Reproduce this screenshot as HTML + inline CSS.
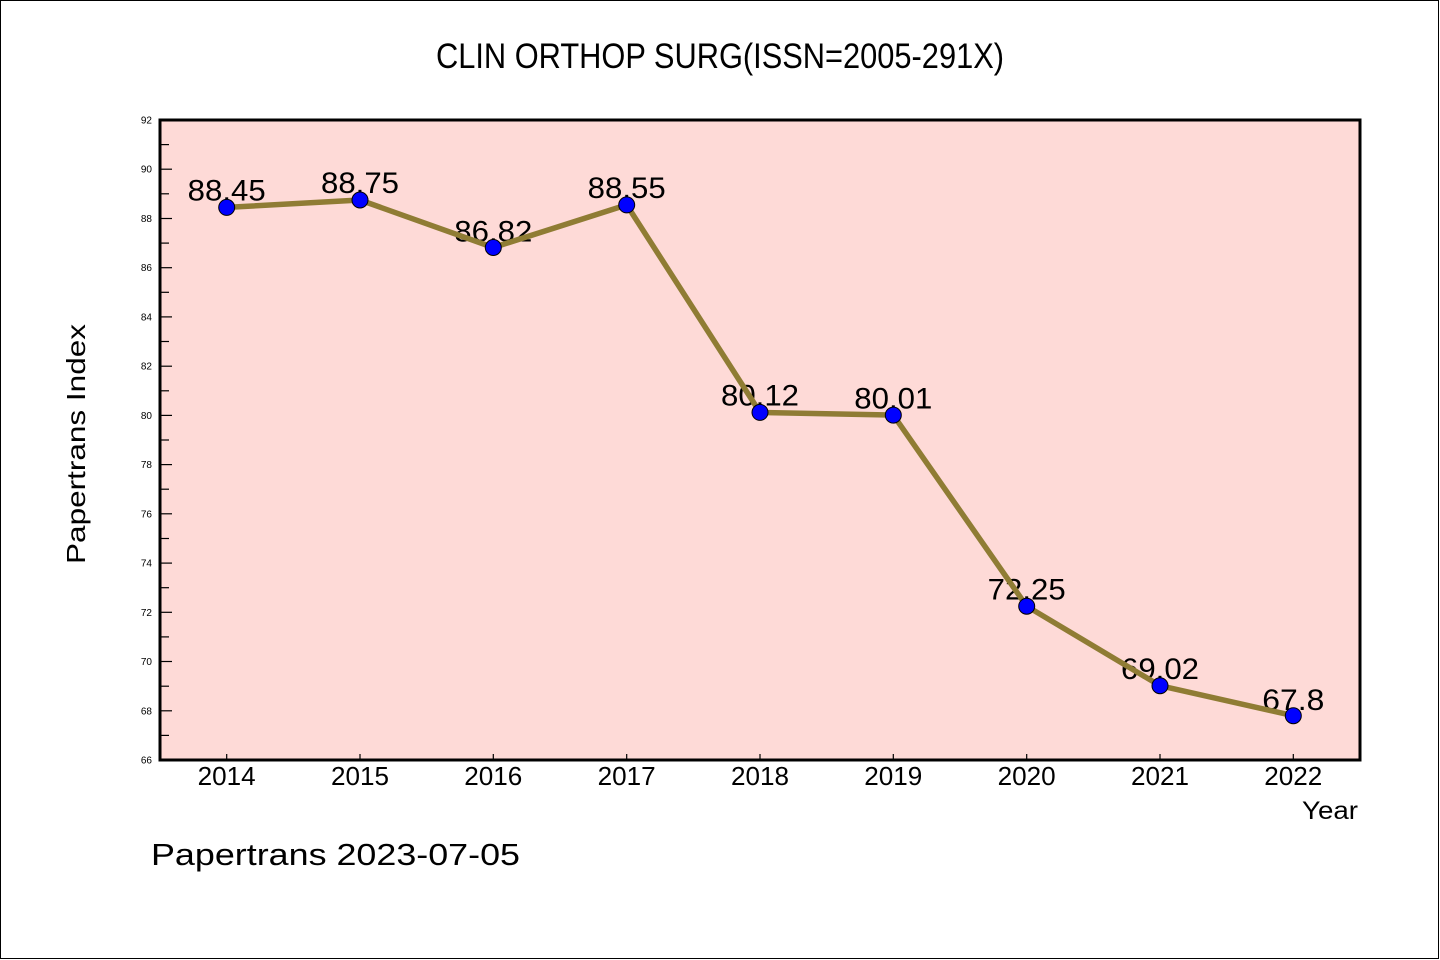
<!DOCTYPE html>
<html>
<head>
<meta charset="utf-8">
<style>
  html,body{margin:0;padding:0;background:#fff;}
  svg{display:block;}
  text{font-family:"Liberation Sans","DejaVu Sans",sans-serif;fill:#000;}
</style>
</head>
<body>
<svg width="1440" height="960" viewBox="0 0 1440 960" xmlns="http://www.w3.org/2000/svg">
  <rect x="0" y="0" width="1440" height="960" fill="#fff"/>
  <rect x="0.5" y="0.5" width="1438" height="958" fill="none" stroke="#000" stroke-width="1"/>

  <!-- plot background -->
  <rect x="160" y="120" width="1200" height="640" fill="#FEDAD7"/>

  <!-- title -->
  <text x="720" y="68" font-size="35" text-anchor="middle" textLength="568" lengthAdjust="spacingAndGlyphs">CLIN ORTHOP SURG(ISSN=2005-291X)</text>

  <!-- y ticks -->
  <g stroke="#000" stroke-width="1.2">
    <line x1="160" y1="120" x2="172" y2="120"/>
    <line x1="160" y1="144.6" x2="169" y2="144.6"/>
    <line x1="160" y1="169.2" x2="172" y2="169.2"/>
    <line x1="160" y1="193.8" x2="169" y2="193.8"/>
    <line x1="160" y1="218.5" x2="172" y2="218.5"/>
    <line x1="160" y1="243.1" x2="169" y2="243.1"/>
    <line x1="160" y1="267.7" x2="172" y2="267.7"/>
    <line x1="160" y1="292.3" x2="169" y2="292.3"/>
    <line x1="160" y1="316.9" x2="172" y2="316.9"/>
    <line x1="160" y1="341.5" x2="169" y2="341.5"/>
    <line x1="160" y1="366.2" x2="172" y2="366.2"/>
    <line x1="160" y1="390.8" x2="169" y2="390.8"/>
    <line x1="160" y1="415.4" x2="172" y2="415.4"/>
    <line x1="160" y1="440" x2="169" y2="440"/>
    <line x1="160" y1="464.6" x2="172" y2="464.6"/>
    <line x1="160" y1="489.2" x2="169" y2="489.2"/>
    <line x1="160" y1="513.8" x2="172" y2="513.8"/>
    <line x1="160" y1="538.5" x2="169" y2="538.5"/>
    <line x1="160" y1="563.1" x2="172" y2="563.1"/>
    <line x1="160" y1="587.7" x2="169" y2="587.7"/>
    <line x1="160" y1="612.3" x2="172" y2="612.3"/>
    <line x1="160" y1="636.9" x2="169" y2="636.9"/>
    <line x1="160" y1="661.5" x2="172" y2="661.5"/>
    <line x1="160" y1="686.2" x2="169" y2="686.2"/>
    <line x1="160" y1="710.8" x2="172" y2="710.8"/>
    <line x1="160" y1="735.4" x2="169" y2="735.4"/>
  </g>
  <g font-size="10" text-anchor="end">
    <text x="152" y="123.5">92</text>
    <text x="152" y="172.7">90</text>
    <text x="152" y="222">88</text>
    <text x="152" y="271.2">86</text>
    <text x="152" y="320.4">84</text>
    <text x="152" y="369.7">82</text>
    <text x="152" y="418.9">80</text>
    <text x="152" y="468.1">78</text>
    <text x="152" y="517.3">76</text>
    <text x="152" y="566.6">74</text>
    <text x="152" y="615.8">72</text>
    <text x="152" y="665">70</text>
    <text x="152" y="714.3">68</text>
    <text x="152" y="763.5">66</text>
  </g>

  <!-- x ticks -->
  <g stroke="#000" stroke-width="1.2">
    <line x1="226.7" y1="754" x2="226.7" y2="760"/>
    <line x1="360" y1="754" x2="360" y2="760"/>
    <line x1="493.3" y1="754" x2="493.3" y2="760"/>
    <line x1="626.7" y1="754" x2="626.7" y2="760"/>
    <line x1="760" y1="754" x2="760" y2="760"/>
    <line x1="893.3" y1="754" x2="893.3" y2="760"/>
    <line x1="1026.7" y1="754" x2="1026.7" y2="760"/>
    <line x1="1160" y1="754" x2="1160" y2="760"/>
    <line x1="1293.3" y1="754" x2="1293.3" y2="760"/>
  </g>
  <g font-size="26" text-anchor="middle">
    <text x="226.7" y="785" textLength="58" lengthAdjust="spacingAndGlyphs">2014</text>
    <text x="360" y="785" textLength="58" lengthAdjust="spacingAndGlyphs">2015</text>
    <text x="493.3" y="785" textLength="58" lengthAdjust="spacingAndGlyphs">2016</text>
    <text x="626.7" y="785" textLength="58" lengthAdjust="spacingAndGlyphs">2017</text>
    <text x="760" y="785" textLength="58" lengthAdjust="spacingAndGlyphs">2018</text>
    <text x="893.3" y="785" textLength="58" lengthAdjust="spacingAndGlyphs">2019</text>
    <text x="1026.7" y="785" textLength="58" lengthAdjust="spacingAndGlyphs">2020</text>
    <text x="1160" y="785" textLength="58" lengthAdjust="spacingAndGlyphs">2021</text>
    <text x="1293.3" y="785" textLength="58" lengthAdjust="spacingAndGlyphs">2022</text>
  </g>

  <!-- axis labels -->
  <text x="1302" y="819" font-size="25" textLength="56" lengthAdjust="spacingAndGlyphs">Year</text>
  <text transform="translate(85,444) rotate(-90)" x="0" y="0" font-size="26" text-anchor="middle" textLength="240" lengthAdjust="spacingAndGlyphs">Papertrans Index</text>

  <!-- data labels -->
  <g font-size="30" text-anchor="middle">
    <text x="226.7" y="200.5" textLength="78" lengthAdjust="spacingAndGlyphs">88.45</text>
    <text x="360" y="193" textLength="78" lengthAdjust="spacingAndGlyphs">88.75</text>
    <text x="493.3" y="241.5" textLength="78" lengthAdjust="spacingAndGlyphs">86.82</text>
    <text x="626.7" y="198" textLength="78" lengthAdjust="spacingAndGlyphs">88.55</text>
    <text x="760" y="405.5" textLength="78" lengthAdjust="spacingAndGlyphs">80.12</text>
    <text x="893.3" y="408.5" textLength="78" lengthAdjust="spacingAndGlyphs">80.01</text>
    <text x="1026.7" y="599.5" textLength="78" lengthAdjust="spacingAndGlyphs">72.25</text>
    <text x="1160" y="679" textLength="78" lengthAdjust="spacingAndGlyphs">69.02</text>
    <text x="1293.3" y="710" textLength="62" lengthAdjust="spacingAndGlyphs">67.8</text>
  </g>

  <!-- series line -->
  <polyline fill="none" stroke="#8F7C34" stroke-width="5.5" stroke-linejoin="round"
    points="226.7,207.4 360,200 493.3,247.5 626.7,204.9 760,412.4 893.3,415.1 1026.7,606.2 1160,685.7 1293.3,715.7"/>

  <!-- markers -->
  <g fill="#0000FF" stroke="#000" stroke-width="1">
    <circle cx="226.7" cy="207.4" r="8"/>
    <circle cx="360" cy="200" r="8"/>
    <circle cx="493.3" cy="247.5" r="8"/>
    <circle cx="626.7" cy="204.9" r="8"/>
    <circle cx="760" cy="412.4" r="8"/>
    <circle cx="893.3" cy="415.1" r="8"/>
    <circle cx="1026.7" cy="606.2" r="8"/>
    <circle cx="1160" cy="685.7" r="8"/>
    <circle cx="1293.3" cy="715.7" r="8"/>
  </g>

  <!-- frame -->
  <rect x="160" y="120" width="1200" height="640" fill="none" stroke="#000" stroke-width="3"/>

  <!-- footer -->
  <text x="151" y="865" font-size="31" textLength="369" lengthAdjust="spacingAndGlyphs">Papertrans 2023-07-05</text>
</svg>
</body>
</html>
